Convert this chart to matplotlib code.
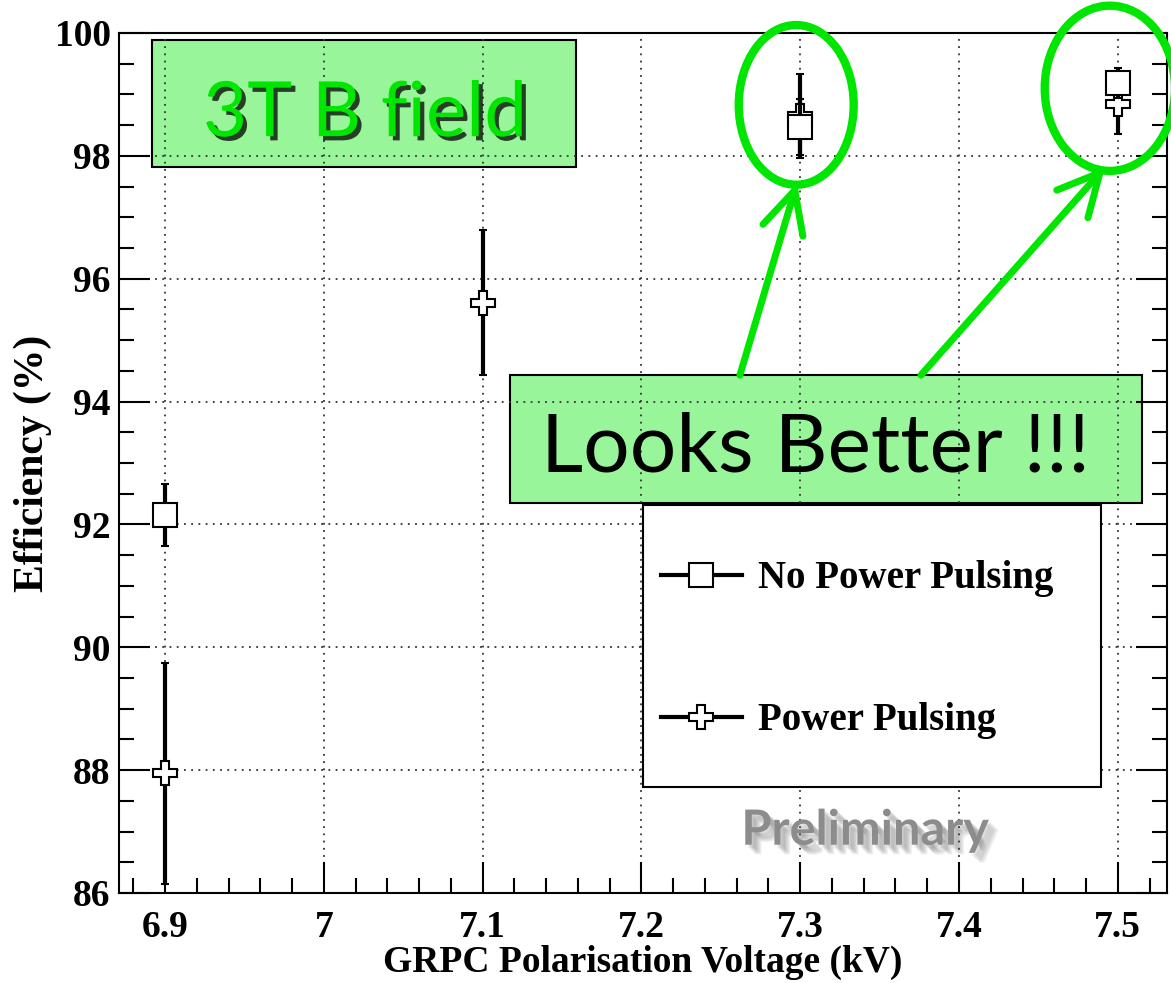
import matplotlib
matplotlib.use("Agg")
import matplotlib.pyplot as plt
import matplotlib.patheffects as pe
from matplotlib.lines import Line2D
from matplotlib.patches import Rectangle, Ellipse
from matplotlib.ticker import MultipleLocator

# Eficiência GRPC em campo de 3T, com e sem power pulsing
tensao_npp = [6.9, 7.3, 7.5]
eff_npp = [92.15, 98.47, 99.19]
erro_npp = [0.50, 0.45, 0.24]

tensao_pp = [6.9, 7.1, 7.3, 7.5]
eff_pp = [87.95, 95.61, 98.65, 98.85]
erro_pp = [1.80, 1.18, 0.68, 0.50]

rotulos = ["No Power Pulsing", "Power Pulsing"]

fonte_root = dict(family="Liberation Serif", weight="bold")
verde = "#00e600"
verde_caixa = "#99f599"

fig = plt.figure(figsize=(11.71, 9.83), dpi=100)
ax = fig.add_axes([119 / 1171, 90 / 983, 1048 / 1171, 860 / 983])

# pontos com barras de erro
kw = dict(color="black", ecolor="black", elinewidth=3, capsize=3, capthick=3,
          ms=17, mfc="white", mec="black", mew=1.5, ls="none")
ax.errorbar(tensao_pp, eff_pp, yerr=erro_pp, fmt="P", zorder=4, **kw)
ax.errorbar(tensao_npp, eff_npp, yerr=erro_npp, fmt="s", zorder=5, **kw)

ax.set_xlim(6.871, 7.531)
ax.set_ylim(86, 100)
ax.xaxis.set_major_locator(MultipleLocator(0.1))
ax.xaxis.set_minor_locator(MultipleLocator(0.02))
ax.yaxis.set_major_locator(MultipleLocator(2))
ax.yaxis.set_minor_locator(MultipleLocator(0.5))
ax.set_xticks([6.9, 7.0, 7.1, 7.2, 7.3, 7.4, 7.5])
ax.set_xticklabels(["6.9", "7", "7.1", "7.2", "7.3", "7.4", "7.5"])

ax.tick_params(axis="both", which="both", direction="in", width=1.5, color="black")
ax.tick_params(axis="y", which="both", right=True)
ax.tick_params(axis="both", which="major", length=22)
ax.tick_params(axis="both", which="minor", length=11)
ax.tick_params(axis="x", which="major", pad=12)
ax.tick_params(axis="y", which="major", pad=6)
for lab in ax.get_xticklabels() + ax.get_yticklabels():
    lab.set_fontfamily("Liberation Serif")
    lab.set_fontweight("bold")
    lab.set_fontsize(27)

for s in ax.spines.values():
    s.set_linewidth(1.5)

ax.set_axisbelow(True)
ax.grid(True, which="major", color="#333333", lw=1.3, ls=(0, (1, 3)))

ax.set_xlabel("GRPC Polarisation Voltage (kV)", fontsize=27, labelpad=0, **fonte_root)
ax.set_ylabel("Efficiency (%)", fontsize=30, labelpad=2, **fonte_root)

# legenda com moldura própria
ax.add_patch(Rectangle((0.5, 0.123), 0.437, 0.328, transform=ax.transAxes,
                       facecolor="white", edgecolor="black", lw=1.5, zorder=6))
handles = [
    Line2D([], [], color="black", lw=3, marker="s", ms=17, mfc="white", mec="black", mew=1.5),
    Line2D([], [], color="black", lw=3, marker="P", ms=17, mfc="white", mec="black", mew=1.5),
]
leg = ax.legend(handles, rotulos, loc="upper left", bbox_to_anchor=(0.502, 0.405),
                frameon=False, prop=dict(family="Liberation Serif", weight="bold", size=28),
                handlelength=2.1, handletextpad=0.4, labelspacing=2.7, borderaxespad=0)
leg.set_zorder(7)

# caixas verdes de anotação
sombra = [pe.withSimplePatchShadow(offset=(3, -3), shadow_rgbFace="black", alpha=0.75)]
ax.add_patch(Rectangle((0.0315, 0.844), 0.405, 0.148, transform=ax.transAxes,
                       facecolor=verde_caixa, edgecolor="black", lw=1.5, zorder=0.4))
ax.text(0.2347, 0.905, "3T B field", transform=ax.transAxes, ha="center", va="center",
        fontsize=55, family="Lato", color=verde, path_effects=sombra, zorder=8)

ax.add_patch(Rectangle((0.373, 0.454), 0.603, 0.148, transform=ax.transAxes,
                       facecolor=verde_caixa, edgecolor="black", lw=1.5, zorder=0.4))
ax.text(0.665, 0.517, "Looks Better !!!", transform=ax.transAxes, ha="center", va="center",
        fontsize=59, family="Lato", color="black", zorder=8)

# círculos e setas nos pontos de 7.3 e 7.5 kV
for cx, cy, w, h in [(7.2975, 98.83, 0.0724, 2.6), (7.495, 99.1, 0.082, 2.69)]:
    ax.add_patch(Ellipse((cx, cy), w, h, fill=False, edgecolor=verde, lw=6,
                         clip_on=False, zorder=9))

seta = dict(arrowstyle="->,head_length=1.0,head_width=0.5", color=verde, lw=5,
            mutation_scale=30, shrinkA=0, shrinkB=0, capstyle="round")
ax.annotate("", xy=(7.298, 97.56), xytext=(7.262, 94.43), arrowprops=seta, zorder=9)
ax.annotate("", xy=(7.492, 97.82), xytext=(7.376, 94.43), arrowprops=seta, zorder=9)

# sombra difusa do "Preliminary": várias sombras fracas deslocadas
difusa = [pe.SimplePatchShadow(offset=(d, -d), shadow_rgbFace="#444444", alpha=0.09)
          for d in (2, 3, 4, 5, 6, 7)]
ax.text(0.712, 0.073, "Preliminary", transform=ax.transAxes, ha="center", va="center",
        fontsize=35, family="Lato", weight="bold", color="#8c8c8c", zorder=8,
        path_effects=difusa + [pe.Normal()])

fig.savefig("out.png", dpi=100)
